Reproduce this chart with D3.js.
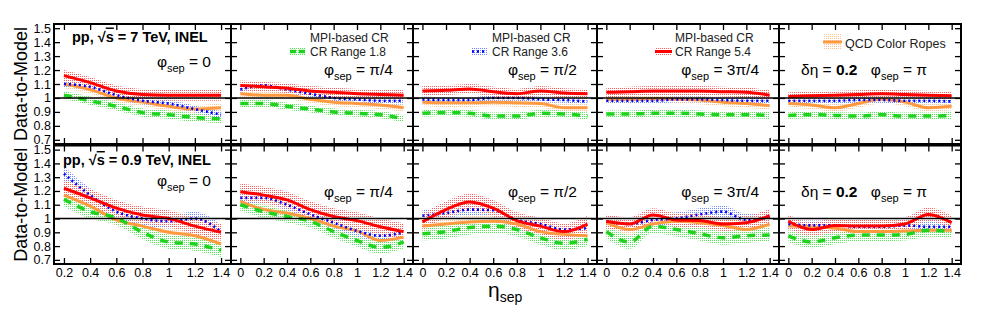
<!DOCTYPE html>
<html lang="en">
<head>
  <meta charset="UTF-8">
  <title>Data-to-Model ratios</title>
  <script src="https://d3js.org/d3.v7.min.js"></script>
  <style>
    body { margin: 0; background: #fff; }
    svg { font-family: "Liberation Sans", Arial, Helvetica, sans-serif; }
    .tick text { font-size: 12.5px; fill: #000; }
    .tick line { stroke: #000; stroke-width: 1.3px; }
  </style>
</head>
<body>
  <svg id="chart" width="997" height="311"></svg>

  <script>
    // eta_sep grid: first column starts at 0.2, the others at 0
    const etaFirst = [0.2, 0.4, 0.6, 0.8, 1.0, 1.2, 1.4];
    const etaRest = [0, 0.2, 0.4, 0.6, 0.8, 1.0, 1.2, 1.4];
    const yTicks = [0.7, 0.8, 0.9, 1.0, 1.1, 1.2, 1.3, 1.4, 1.5];
    const phiLabels = ["0", "π/4", "π/2", "3π/4", "π"];
    const energyLabels = [["pp, √", "s", " = 7 TeV, INEL"], ["pp, √", "s", " = 0.9 TeV, INEL"]];
    const seriesNames = ["CR Range 1.8", "CR Range 3.6", "CR Range 5.4", "QCD Color Ropes"];

    // pp 7 TeV, one array per phi_sep column
    const red7 = [
      [1.16, 1.11, 1.05, 1.025, 1.02, 1.02, 1.02],
      [1.09, 1.08, 1.07, 1.05, 1.04, 1.03, 1.025, 1.02],
      [1.05, 1.055, 1.065, 1.045, 1.03, 1.05, 1.035, 1.03],
      [1.04, 1.045, 1.05, 1.05, 1.05, 1.045, 1.04, 1.02],
      [1.01, 1.015, 1.02, 1.025, 1.03, 1.025, 1.02, 1.015]];
    const blue7 = [
      [1.10, 1.08, 1.02, 0.98, 0.96, 0.92, 0.88],
      [1.06, 1.09, 1.06, 1.03, 1.00, 0.99, 0.98, 0.98],
      [0.99, 0.985, 0.985, 1.0, 1.0, 0.99, 0.985, 0.975],
      [0.98, 0.98, 0.98, 0.99, 0.99, 0.985, 0.98, 0.98],
      [0.98, 0.98, 0.98, 0.985, 0.985, 0.98, 0.98, 0.975]];
    const green7 = [
      [1.02, 0.98, 0.94, 0.895, 0.88, 0.86, 0.85],
      [0.96, 0.96, 0.94, 0.92, 0.90, 0.89, 0.88, 0.85],
      [0.89, 0.895, 0.89, 0.87, 0.87, 0.89, 0.885, 0.87],
      [0.885, 0.885, 0.89, 0.89, 0.885, 0.88, 0.88, 0.875],
      [0.875, 0.88, 0.875, 0.87, 0.88, 0.87, 0.87, 0.875]];
    const orange7 = [
      [1.10, 1.06, 1.00, 0.97, 0.94, 0.92, 0.93],
      [1.03, 1.02, 1.02, 0.99, 0.97, 0.96, 0.95, 0.93],
      [0.97, 0.965, 0.965, 0.97, 0.965, 0.96, 0.93, 0.93],
      [0.99, 0.99, 0.995, 0.99, 0.985, 0.97, 0.96, 0.945],
      [0.96, 0.95, 0.93, 0.96, 0.99, 0.97, 0.93, 0.94]];

    // pp 0.9 TeV
    const red09 = [
      [1.22, 1.15, 1.075, 1.025, 1.0, 0.945, 0.9],
      [1.195, 1.17, 1.135, 1.065, 1.015, 0.985, 0.94, 0.905],
      [0.976, 1.065, 1.12, 1.075, 0.985, 0.945, 0.905, 0.96],
      [0.98, 0.96, 1.025, 0.99, 0.985, 0.96, 0.97, 1.02],
      [0.98, 0.92, 0.95, 0.945, 0.945, 0.96, 1.03, 0.97]];
    const blue09 = [
      [1.325, 1.17, 1.05, 1.0, 0.98, 1.0, 0.905],
      [1.15, 1.15, 1.10, 1.03, 0.97, 0.91, 0.875, 0.90],
      [1.02, 1.04, 1.065, 1.06, 0.99, 0.96, 0.92, 0.93],
      [0.98, 0.96, 0.99, 1.0, 1.03, 1.05, 0.99, 1.01],
      [0.96, 0.95, 0.95, 0.94, 0.94, 0.95, 0.94, 0.94]];
    const green09 = [
      [1.14, 1.05, 1.005, 0.9, 0.83, 0.815, 0.77],
      [1.10, 1.05, 1.015, 0.98, 0.905, 0.84, 0.79, 0.83],
      [0.89, 0.905, 0.935, 0.945, 0.92, 0.86, 0.82, 0.85],
      [0.905, 0.83, 0.945, 0.92, 0.89, 0.86, 0.875, 0.88],
      [0.874, 0.83, 0.86, 0.88, 0.88, 0.885, 0.915, 0.905]];
    const orange09 = [
      [1.17, 1.09, 0.99, 0.945, 0.9, 0.875, 0.815],
      [1.125, 1.065, 1.04, 1.0, 0.945, 0.91, 0.84, 0.865],
      [0.945, 0.96, 0.975, 0.98, 0.96, 0.905, 0.885, 0.875],
      [0.97, 0.92, 0.96, 0.98, 0.97, 0.95, 0.92, 0.96],
      [0.945, 0.94, 0.93, 0.905, 0.905, 0.91, 0.915, 0.915]];

    // band half-widths [7 TeV row, 0.9 TeV row] per column
    const greenErr = [[0.03, 0.025, 0.025, 0.025, 0.025], [0.05, 0.045, 0.05, 0.05, 0.045]];
    const blueErr = [[0.025, 0.025, 0.02, 0.02, 0.02], [0.05, 0.04, 0.04, 0.045, 0.035]];
    const redErr = [[0.04, 0.035, 0.035, 0.035, 0.03], [0.06, 0.06, 0.06, 0.05, 0.05]];
    const orangeErr = [[0.03, 0.03, 0.03, 0.03, 0.03], [0.045, 0.045, 0.045, 0.045, 0.045]];

    const rows = [
      { series: [orange7, green7, blue7, red7] },
      { series: [orange09, green09, blue09, red09] }
    ];
    const errs = [orangeErr, greenErr, blueErr, redErr];

    const styles = [
      { band: "#ffc48e", line: "#ff9a40", width: 3, dash: null },           // ropes
      { band: "#52e852", line: "#1ed21e", width: 3.5, dash: "8,7" },        // 1.8
      { band: "#7088ff", line: "#0000ff", width: 2.6, dash: "2,3" },        // 3.6
      { band: "#ff5a5a", line: "#ff0000", width: 3, dash: null }            // 5.4
    ];

    const colX = [54, 231, 413, 597, 779, 961];
    const rowY = [[24, 144], [145.5, 264]];
    const yDomain = [0.67, 1.53];

    const svg = d3.select("#chart");
    const defs = svg.append("defs");
    styles.forEach((s, i) => {
      const p = defs.append("pattern").attr("id", "dots" + i)
        .attr("patternUnits", "userSpaceOnUse").attr("width", 2).attr("height", 2);
      p.append("rect").attr("x", 0).attr("y", 0).attr("width", 1).attr("height", 1).attr("fill", s.band);
    });

    const fmt = d => String(+d.toFixed(1));
    const font = 15.5, subFont = 11;

    function phiText(g, x, y, rest) {
      const t = g.append("text").attr("x", x).attr("y", y).attr("text-anchor", "end")
        .attr("font-size", font).attr("fill", "#000");
      t.append("tspan").text("φ");
      t.append("tspan").attr("font-size", subFont).attr("dy", 4.5).text("sep");
      t.append("tspan").attr("dy", -4.5).text(" = " + rest);
    }

    rows.forEach((row, r) => {
      const [top, bottom] = rowY[r];
      const y = d3.scaleLinear().domain(yDomain).range([bottom, top]);

      for (let c = 0; c < 5; c++) {
        const left = colX[c], right = colX[c + 1];
        const etas = c === 0 ? etaFirst : etaRest;
        const x = d3.scaleLinear()
          .domain(c === 0 ? [0.124, 1.476] : [-0.08, 1.48])
          .range([left, right]);

        const g = svg.append("g");
        const clipId = "clip" + r + c;
        defs.append("clipPath").attr("id", clipId).append("rect")
          .attr("x", left).attr("y", top).attr("width", right - left).attr("height", bottom - top);
        const plot = g.append("g").attr("clip-path", `url(#${clipId})`);

        const series = row.series.map((vals, k) => etas.map((eta, i) => ({
          eta, v: vals[c][i], e: errs[k][r][c]
        })));

        const area = d3.area().curve(d3.curveMonotoneX)
          .x(d => x(d.eta)).y0(d => y(d.v - d.e)).y1(d => y(d.v + d.e));
        const line = d3.line().curve(d3.curveMonotoneX)
          .x(d => x(d.eta)).y(d => y(d.v));

        series.forEach((s, k) => {
          plot.append("path").attr("d", area(s)).attr("fill", `url(#dots${k})`);
        });
        series.forEach((s, k) => {
          plot.append("path").attr("d", line(s)).attr("fill", "none")
            .attr("stroke", styles[k].line).attr("stroke-width", styles[k].width)
            .attr("stroke-dasharray", styles[k].dash);
        });

        // reference line at 1
        g.append("line").attr("x1", left).attr("x2", right)
          .attr("y1", y(1)).attr("y2", y(1)).attr("stroke", "#000").attr("stroke-width", 1.5);

        // axes with inward ticks on all four sides
        const xt = etas;
        g.append("g").attr("transform", `translate(0,${bottom})`)
          .call(d3.axisBottom(x).tickValues(xt).tickSizeInner(-6).tickSizeOuter(0).tickPadding(4)
            .tickFormat(r === 1 ? fmt : () => ""))
          .call(a => a.select(".domain").remove());
        g.append("g").attr("transform", `translate(0,${top})`)
          .call(d3.axisTop(x).tickValues(xt).tickSizeInner(-6).tickSizeOuter(0).tickFormat(() => ""))
          .call(a => a.select(".domain").remove());
        g.append("g").attr("transform", `translate(${left},0)`)
          .call(d3.axisLeft(y).tickValues(yTicks).tickSizeInner(-6).tickSizeOuter(0).tickPadding(3)
            .tickFormat(c === 0 ? fmt : () => ""))
          .call(a => a.select(".domain").remove());
        g.append("g").attr("transform", `translate(${right},0)`)
          .call(d3.axisRight(y).tickValues(yTicks).tickSizeInner(-6).tickSizeOuter(0).tickFormat(() => ""))
          .call(a => a.select(".domain").remove());

        g.append("rect").attr("x", left).attr("y", top).attr("width", right - left).attr("height", bottom - top)
          .attr("fill", "none").attr("stroke", "#000").attr("stroke-width", 2);

        // phi_sep label
        const phiY = r === 0 ? (c === 0 ? 67 : 75) : (c === 0 ? 186 : 197);
        if (c < 4) {
          phiText(g, right - 20, phiY, phiLabels[c]);
        } else {
          phiText(g, right - 34, phiY, phiLabels[c]);
          const d = g.append("text").attr("x", left + 22).attr("y", phiY)
            .attr("font-size", font).attr("fill", "#000");
          d.append("tspan").text("δη = ");
          d.append("tspan").attr("font-weight", "bold").text("0.2");
        }
      }

      // energy label in first column
      const e = svg.append("text").attr("x", r === 0 ? 72 : 63).attr("y", r === 0 ? 41.5 : 165)
        .attr("font-size", 14.5).attr("font-weight", "bold").attr("fill", "#000");
      e.append("tspan").text(energyLabels[r][0]);
      e.append("tspan").attr("text-decoration", "overline").text(energyLabels[r][1]);
      e.append("tspan").text(energyLabels[r][2]);

      // y title
      svg.append("text").attr("transform", `translate(27,${(top + bottom) / 2}) rotate(-90)`)
        .attr("text-anchor", "middle").attr("font-size", 18).attr("fill", "#000")
        .text("Data-to-Model");
    });

    // legends in the top row
    const legend = [
      { col: 1, k: 1, sx: 59, sw: 15, sh: 7, sy: 51.5, tx: 79, lines: ["MPI-based CR", seriesNames[0]] },
      { col: 2, k: 2, sx: 59, sw: 15, sh: 9, sy: 51.5, tx: 79, lines: ["MPI-based CR", seriesNames[1]] },
      { col: 3, k: 3, sx: 58, sw: 17, sh: 9, sy: 51.5, tx: 78, lines: ["MPI-based CR", seriesNames[2]] },
      { col: 4, k: 0, sx: 44, sw: 19, sh: 16, sy: 42, tx: 66, lines: [seriesNames[3]] }
    ];
    legend.forEach(L => {
      const left = colX[L.col];
      const st = styles[L.k];
      svg.append("rect").attr("x", left + L.sx).attr("y", L.sy - L.sh / 2)
        .attr("width", L.sw).attr("height", L.sh).attr("fill", `url(#dots${L.k})`);
      svg.append("line").attr("x1", left + L.sx).attr("x2", left + L.sx + L.sw)
        .attr("y1", L.sy).attr("y2", L.sy).attr("stroke", st.line).attr("stroke-width", st.width)
        .attr("stroke-dasharray", L.k === 1 ? "6,3" : st.dash);
      if (L.lines.length === 2) {
        svg.append("text").attr("x", left + L.tx).attr("y", 42).attr("font-size", 12)
          .attr("fill", "#222").text(L.lines[0]);
        svg.append("text").attr("x", left + L.tx).attr("y", 56).attr("font-size", 12)
          .attr("fill", "#222").text(L.lines[1]);
      } else {
        svg.append("text").attr("x", left + L.tx).attr("y", 47.5).attr("font-size", 12.5)
          .attr("fill", "#222").text(L.lines[0]);
      }
    });

    // x title
    const xt = svg.append("text").attr("x", 488).attr("y", 297).attr("font-size", 21).attr("fill", "#000");
    xt.append("tspan").text("η");
    xt.append("tspan").attr("font-size", 14).attr("dy", 5).text("sep");
  </script>
</body>
</html>
